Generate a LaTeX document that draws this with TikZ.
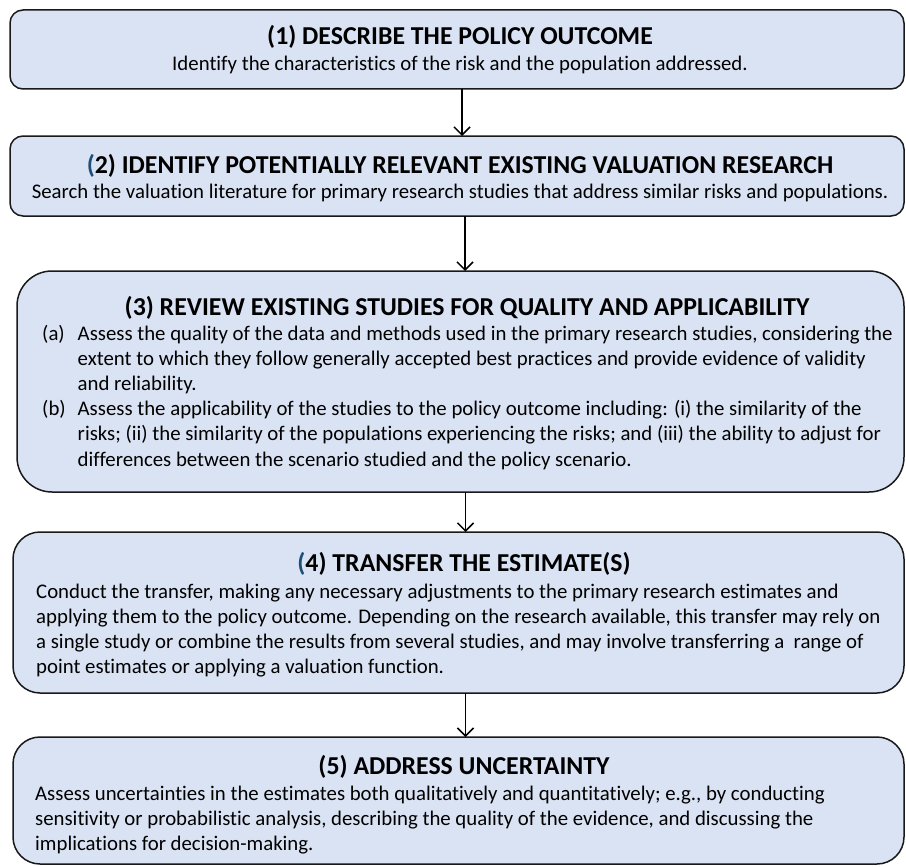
\documentclass[tikz,border=0pt]{standalone}
\usepackage{fontspec}
\setmainfont{Carlito}[Ligatures={NoCommon}]
\usetikzlibrary{arrows.meta}
\definecolor{boxfill}{RGB}{218,227,243}
\definecolor{parblue}{RGB}{31,78,121}
\begin{document}
\begin{tikzpicture}[x=1pt,y=-1pt,
  stepbox/.style={draw=black!90, line width=1.5pt, fill=boxfill, inner sep=0pt, outer sep=0pt, anchor=north west},
  head/.style={font=\fontsize{25.8}{30}\selectfont\bfseries, anchor=base, inner sep=0pt},
  body/.style={font=\fontsize{20.8}{25.2}\selectfont, anchor=base west, inner sep=0pt},
  bodyc/.style={font=\fontsize{20.8}{25.2}\selectfont, anchor=base, inner sep=0pt},
  arr/.style={line width=1.5pt, -{Straight Barb[length=8pt,width=16pt,line width=1.5pt]}}
]
\useasboundingbox (0,0) rectangle (906,867);
% boxes
\node[stepbox, rounded corners=13pt, minimum width=894pt, minimum height=79pt] (b1) at (10,10) {};
\node[stepbox, rounded corners=13pt, minimum width=894pt, minimum height=80pt] (b2) at (10,136) {};
\node[stepbox, rounded corners=35pt, minimum width=887pt, minimum height=221pt] (b3) at (17,271) {};
\node[stepbox, rounded corners=27pt, minimum width=891pt, minimum height=161pt] (b4) at (13,532) {};
\node[stepbox, rounded corners=27pt, minimum width=891pt, minimum height=127pt] (b5) at (13,737) {};
% box 1
\node[head] (h1) at (460,45) {(1) DESCRIBE THE POLICY OUTCOME};
\node[bodyc] (t1) at (460,71) {Identify the characteristics of the risk and the population addressed.};
% box 2
\node[head] (h2) at (460,173) {{\color{parblue}(}2) IDENTIFY POTENTIALLY RELEVANT EXISTING VALUATION RESEARCH};
\node[bodyc] (t2) at (460,198) {Search the valuation literature for primary research studies that address similar risks and populations.};
% box 3
\node[head] (h3) at (467,315) {(3) REVIEW EXISTING STUDIES FOR QUALITY AND APPLICABILITY};
\node[body] (t3) at (42,340) {\begin{tabular}[t]{@{}l@{\hspace{12pt}}l@{}}
(a) & Assess the quality of the data and methods used in the primary research studies, considering the\\
 & extent to which they follow generally accepted best practices and provide evidence of validity\\
 & and reliability.\\
(b) & Assess the applicability of the studies to the policy outcome including: (i) the similarity of the\\
 & risks; (ii) the similarity of the populations experiencing the risks; and (iii) the ability to adjust for\\
 & differences between the scenario studied and the policy scenario.
\end{tabular}};
% box 4
\node[head] (h4) at (464,571) {{\color{parblue}(}4) TRANSFER THE ESTIMATE(S)};
\node[body] (t4) at (36,598) {\begin{tabular}[t]{@{}l@{}}
Conduct the transfer, making any necessary adjustments to the primary research estimates and\\
applying them to the policy outcome. Depending on the research available, this transfer may rely on\\
a single study or combine the results from several studies, and may involve transferring a\ \ range of\\
point estimates or applying a valuation function.
\end{tabular}};
% box 5
\node[head] (h5) at (464,774) {(5) ADDRESS UNCERTAINTY};
\node[body] (t5) at (35,800) {\begin{tabular}[t]{@{}l@{}}
Assess uncertainties in the estimates both qualitatively and quantitatively; e.g., by conducting\\
sensitivity or probabilistic analysis, describing the quality of the evidence, and discussing the\\
implications for decision-making.
\end{tabular}};
% arrows
\draw[arr] ([xshift=5pt]b1.south) -- ([xshift=5pt]b1.south |- b2.north);
\draw[arr] ([xshift=8pt]b2.south) -- ([xshift=8pt]b2.south |- b3.north);
\draw[arr] ([xshift=5pt]b3.south) -- ([xshift=5pt]b3.south |- b4.north);
\draw[arr] ([xshift=7pt]b4.south) -- ([xshift=7pt]b4.south |- b5.north);
\end{tikzpicture}
\end{document}
